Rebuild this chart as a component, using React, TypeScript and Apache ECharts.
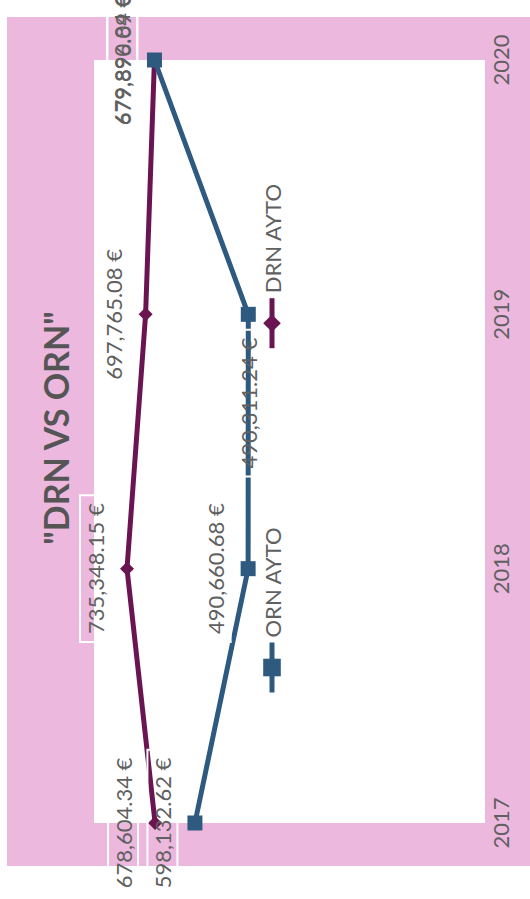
import React, { useEffect, useRef } from "react";
import * as echarts from "echarts";

// Yearly amounts in euros
const years = ["2017", "2018", "2019", "2020"];
const drnValues = [678604.34, 735348.15, 697765.08, 679896.09];
const ornValues = [598132.62, 490660.68, 490311.24, 679890.84];
const drnName = "DRN AYTO";
const ornName = "ORN AYTO";
const titleText = '"DRN VS ORN"';

const DRN_COLOR = "#6a1551";
const ORN_COLOR = "#2e5a7f";
const PINK = "#ecb8de";
const TEXT = "#606060";

const euro = (v: number) =>
  v.toLocaleString("en-US", { minimumFractionDigits: 2, maximumFractionDigits: 2 }) + " €";

// The chart is laid out landscape (899 x 530) and turned a quarter turn
// counter-clockwise so the years read bottom-to-top along the right edge.
const W = 899;
const H = 530;

export default function App() {
  const ref = useRef<HTMLDivElement>(null);

  useEffect(() => {
    if (!ref.current) return;
    const chart = echarts.init(ref.current, undefined, { renderer: "svg" });

    const label = {
      show: true,
      position: "top" as const,
      distance: 10,
      fontFamily: "Lato",
      fontSize: 22,
      color: TEXT,
      borderColor: "#ffffff",
      borderWidth: 2,
      padding: [4, 8],
      formatter: (p: any) => euro(p.value as number),
    };

    // the 2019 ORN label sits beside its point, along the line
    const ornData = ornValues.map((v, i) =>
      i === 2 ? { value: v, label: { position: "left" as const, distance: 8 } } : v
    );

    chart.setOption({
      animation: false,
      backgroundColor: "#ffffff",
      textStyle: { fontFamily: "Lato" },
      graphic: [
        {
          type: "rect",
          z: -100,
          silent: true,
          shape: { x: 33, y: 7, width: 849, height: 530 },
          style: { fill: PINK },
        },
        {
          type: "rect",
          z: -90,
          silent: true,
          shape: { x: 76, y: 94, width: 763, height: 391 },
          style: { fill: "#ffffff" },
        },
      ],
      title: {
        text: titleText,
        left: 466,
        top: 33,
        textAlign: "center",
        textStyle: { fontFamily: "Lato", fontSize: 34, fontWeight: "bold", color: "#555555" },
      },
      legend: {
        data: [ornName, drnName],
        top: 256,
        left: 199,
        itemGap: 176,
        itemWidth: 50,
        itemHeight: 22,
        lineStyle: { width: 5 },
        textStyle: { fontFamily: "Lato", fontSize: 22, color: TEXT },
      },
      grid: {
        show: false,
        left: 76,
        right: 60,
        top: 95,
        bottom: 39,
        containLabel: false,
      },
      xAxis: {
        type: "category",
        data: years,
        boundaryGap: false,
        axisLine: { show: false },
        axisTick: { show: false },
        splitLine: { show: false },
        axisLabel: { fontFamily: "Lato", fontSize: 22, color: TEXT, margin: -2 },
      },
      yAxis: {
        type: "value",
        min: 0,
        max: 800000,
        show: false,
        splitLine: { show: false },
      },
      series: [
        {
          name: drnName,
          type: "line",
          data: drnValues,
          symbol: "diamond",
          symbolSize: 14,
          itemStyle: { color: DRN_COLOR },
          lineStyle: { color: DRN_COLOR, width: 5 },
          label,
        },
        {
          name: ornName,
          type: "line",
          data: ornData,
          symbol: "rect",
          symbolSize: 15,
          itemStyle: { color: ORN_COLOR },
          lineStyle: { color: ORN_COLOR, width: 5 },
          label,
        },
      ],
    });

    return () => chart.dispose();
  }, []);

  return (
    <div
      style={{
        position: "fixed",
        left: 0,
        top: 0,
        width: H,
        height: W,
        overflow: "hidden",
        background: "#ffffff",
      }}
    >
      <div
        ref={ref}
        style={{
          position: "absolute",
          left: 0,
          top: W,
          width: W,
          height: H,
          transformOrigin: "0 0",
          transform: "rotate(-90deg)",
        }}
      />
    </div>
  );
}
